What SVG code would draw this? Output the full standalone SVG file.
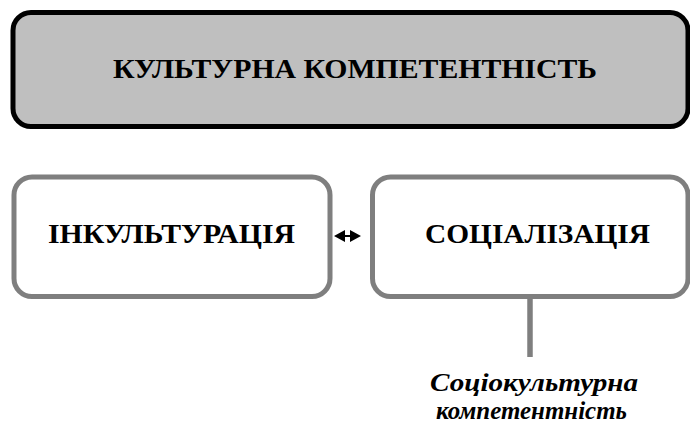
<svg xmlns="http://www.w3.org/2000/svg" width="690" height="430" viewBox="0 0 690 430">
<defs>
<style>
.t{font-family:"Liberation Serif","Times New Roman",serif;font-weight:bold;font-size:27px;fill:#000;text-anchor:middle}
.i{font-style:italic;font-size:25px}
.g{fill:#fff;stroke:#7f7f7f;stroke-width:5}
</style>
</defs>
<rect width="690" height="430" fill="#fff"/>
<g id="culture">
<rect x="13" y="12.5" width="675" height="114" rx="18" fill="#bfbfbf" stroke="#000" stroke-width="5"/>
<text class="t" x="355" y="78" textLength="484" lengthAdjust="spacingAndGlyphs">КУЛЬТУРНА КОМПЕТЕНТНІСТЬ</text>
</g>
<g id="inculturation">
<rect class="g" x="14" y="177" width="316" height="119.5" rx="18"/>
<text class="t" x="171.5" y="243" textLength="247" lengthAdjust="spacingAndGlyphs">ІНКУЛЬТУРАЦІЯ</text>
</g>
<g id="socialization">
<rect class="g" x="372.5" y="177" width="315.5" height="119.5" rx="18"/>
<text class="t" x="537.5" y="243" textLength="225" lengthAdjust="spacingAndGlyphs">СОЦІАЛІЗАЦІЯ</text>
</g>
<g id="connectors">
<path d="M334,236 L345,230 L345,235 L350,235 L350,230 L361,236 L350,242 L350,237 L345,237 L345,242 Z" fill="#000"/>
<line x1="530" y1="299" x2="530" y2="357" stroke="#7f7f7f" stroke-width="5.5"/>
</g>
<g id="sociocultural">
<text class="t i" x="534" y="391" textLength="208" lengthAdjust="spacingAndGlyphs">Соціокультурна</text>
<text class="t i" x="531.5" y="419" textLength="191" lengthAdjust="spacingAndGlyphs">компетентність</text>
</g>
</svg>
